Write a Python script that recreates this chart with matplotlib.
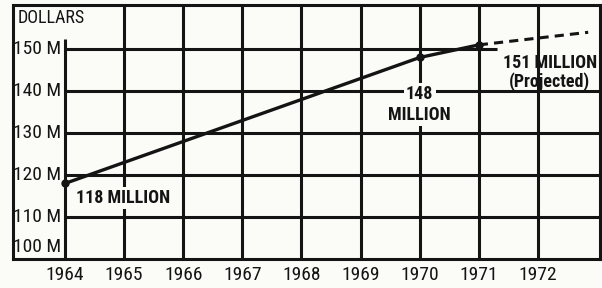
import matplotlib.pyplot as plt

# family income chart, scanned newspaper style

years = [1964, 1970, 1971]
values = [118, 148, 151]
proj_years = [1971, 1972.85]
proj_values = [151, 154]
tick_years = [1964, 1965, 1966, 1967, 1968, 1969, 1970, 1971, 1972]
tick_labels = [str(y) for y in tick_years]
dollar_ticks = [150, 140, 130, 120, 110, 100]
dollar_labels = ["150 M", "140 M", "130 M", "120 M", "110 M", "100 M"]

INK = "#141414"
PAPER = "#fbfbf8"
plt.rcParams['font.family'] = ["Roboto Condensed", "DejaVu Sans"]

fig = plt.figure(figsize=(6.02, 2.88), dpi=100, facecolor=PAPER)
ax = fig.add_axes([13/602, 29/288, 587/602, 254/288], facecolor=PAPER)
x0, x1 = 1963.12, 1973.05
y0, y1 = 100, 160.5
ax.set_xlim(x0, x1)
ax.set_ylim(y0, y1)

for s in ax.spines.values():
    s.set_linewidth(2.2)
    s.set_color(INK)

# grid
ax.vlines(tick_years[1:], y0, y1, color=INK, lw=2.2, zorder=1)
ax.vlines(tick_years[0], y0, 152.3, color=INK, lw=2.2, zorder=1)
ax.hlines([140, 130, 120, 110], tick_years[0], x1, color=INK, lw=2.2, zorder=1)
ax.hlines(150, tick_years[0], 1971.3, color=INK, lw=2.2, zorder=1)

# data line
ax.plot(years, values, color=INK, lw=2.4, marker='o', ms=5, zorder=3,
        solid_capstyle='round')
ax.plot(proj_years, proj_values, color=INK, lw=2.2, ls=(0, (3, 2)), zorder=3)

ax.set_xticks(tick_years)
ax.set_xticklabels(tick_labels, fontsize=14)
ax.tick_params(axis='x', length=0, pad=5, colors=INK)
ax.set_yticks([])

for v, lab in zip(dollar_ticks, dollar_labels):
    va = 'bottom' if v == y0 else 'center'
    yy = v + 0.6 if v == y0 else v
    ax.text(1963.93, yy, lab, ha='right', va=va, fontsize=14, color=INK)
ax.text(1963.2, 157.3, "DOLLARS", ha='left', va='center', fontsize=13, color=INK)

box = dict(boxstyle='square,pad=0.12', fc=PAPER, ec='none')
bold = dict(fontsize=13, fontweight='bold', color=INK, zorder=4)
ax.text(1964.98, 114.5, "118 MILLION", ha='center', va='center', bbox=box, **bold)
ax.text(1970, 139.3, "148", ha='center', va='center', bbox=box, **bold)
ax.text(1970, 134.4, "MILLION", ha='center', va='center', bbox=box, **bold)
ax.text(1972.2, 146.6, "151 MILLION", ha='center', va='center', **bold)
ax.text(1972.2, 142.3, "(Projected)", ha='center', va='center', **bold)

fig.savefig("out.png", dpi=100, facecolor=PAPER)
